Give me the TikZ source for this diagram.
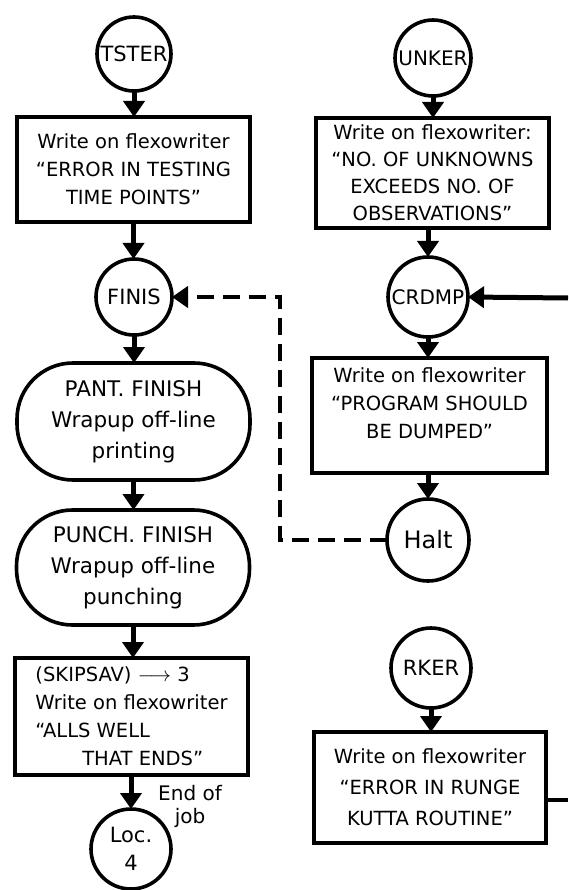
\documentclass[tikz,border=0pt]{standalone}
\usepackage{fontspec}
\setmainfont{DejaVu Sans}
\usetikzlibrary{arrows.meta}
\begin{document}
\begin{tikzpicture}[x=1pt,y=-1pt,
  every node/.style={inner sep=0pt,outer sep=0pt},
  conn/.style={draw,line width=3.6pt,circle,minimum size=#1,
    font=\fontsize{20}{24}\selectfont},
  stepbox/.style n args={2}{draw,line width=3.6pt,rectangle,
    minimum width=#1,minimum height=#2,align=center,
    font=\fontsize{19.5}{28}\selectfont},
  termbox/.style n args={2}{draw,line width=3.6pt,rectangle,
    rounded corners=56pt,minimum width=#1,minimum height=#2,align=center,
    font=\fontsize{21.5}{31}\selectfont},
  flow/.style={line width=5pt,-{Triangle[length=16pt,width=21pt]}},
  back/.style={line width=4pt,dash pattern=on 17pt off 9pt,
    -{Triangle[length=16pt,width=21pt]}},
  note/.style={align=center,font=\fontsize{20}{23}\selectfont}]
\useasboundingbox (0,0) rectangle (568,890);

% left column
\node[conn=74pt,font=\fontsize{21}{24}\selectfont] (tster) at (134,54) {TSTER};
\node[stepbox={233pt}{105pt}] (err1) at (133.5,169.5)
  {Write on flexowriter\\``ERROR IN TESTING\\TIME POINTS''};
\node[conn=76pt,font=\fontsize{21}{24}\selectfont] (finis) at (134,297) {FINIS};
\node[termbox={233pt}{117pt}] (pant) at (133.5,421.5)
  {PANT. FINISH\\Wrapup off-line\\printing};
\node[termbox={233pt}{115pt}] (punch) at (133,567.5)
  {PUNCH. FINISH\\Wrapup off-line\\punching};
\node[stepbox={233pt}{117pt},align=left] (skip) at (131.5,716.5)
  {(SKIPSAV) $\longrightarrow$ 3\\Write on flexowriter\\``ALLS WELL\\\hspace*{2.4em}THAT ENDS''};
\node[conn=80pt,align=center,font=\fontsize{21}{28}\selectfont] (loc) at (131,849) {Loc.\\4};
\node[note] (endjob) at (190,806) {End of\\job};

% right column
\node[conn=76pt] (unker) at (433,58) {UNKER};
\node[stepbox={233pt}{110pt},font=\fontsize{19.5}{27}\selectfont] (err2) at (432.5,173)
  {Write on flexowriter:\\``NO. OF UNKNOWNS\\EXCEEDS NO. OF\\OBSERVATIONS''};
\node[conn=80pt] (crdmp) at (428,297) {CRDMP};
\node[stepbox={235pt}{115pt}] (dump) at (429.5,415.5)
  {Write on flexowriter\\``PROGRAM SHOULD\\BE DUMPED''\\[-12pt]\strut};
\node[conn=82pt,font=\fontsize{24}{28}\selectfont] (halt) at (428,540) {Halt};
\node[conn=80pt,font=\fontsize{21}{24}\selectfont] (rker) at (431,668) {RKER};
\node[stepbox={232pt}{111pt},font=\fontsize{19.5}{31}\selectfont] (err3) at (430,787.5)
  {Write on flexowriter\\``ERROR IN RUNGE\\KUTTA ROUTINE''};

% free ends at the right edge
\coordinate (rin) at (568,298);
\coordinate (rout) at (568,800);
\coordinate (dj) at (280,0);

% main flow
\draw[flow] (tster.south) -- (tster.south |- err1.north);
\draw[flow] (err1.south) -- (err1.south |- finis.north);
\draw[flow] (finis.south) -- (finis.south |- pant.north);
\draw[flow] (pant.south) -- (pant.south |- punch.north);
\draw[flow] (punch.south) -- (punch.south |- skip.north);
\draw[flow] (skip.south -| loc.north) -- (loc.north);
\draw[flow] (unker.south) -- (unker.south |- err2.north);
\draw[flow] (err2.south -| crdmp.north) -- (crdmp.north);
\draw[flow] (crdmp.south) -- (crdmp.south |- dump.north);
\draw[flow] (dump.south -| halt.north) -- (halt.north);
\draw[flow] (rker.south) -- (rker.south |- err3.north);
\draw[flow] (rin) -- (crdmp.east);
\draw[line width=4.5pt] (err3.east |- rout) -- (rout);

% return path from Halt to FINIS
\draw[back] (halt.west) -- (halt.west -| dj) -- (finis.east -| dj) -- (finis.east);
\end{tikzpicture}
\end{document}
